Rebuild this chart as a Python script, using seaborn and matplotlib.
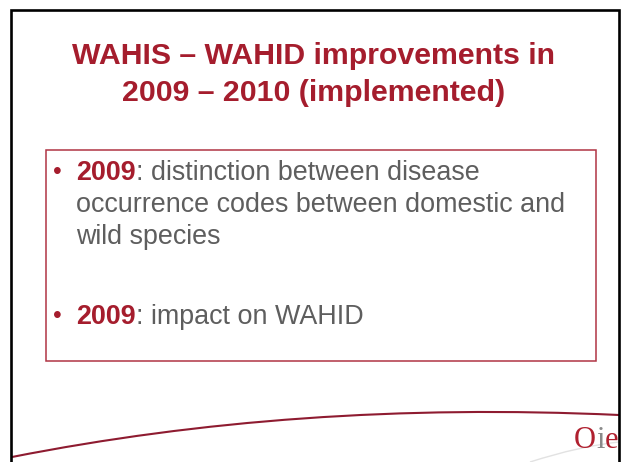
import matplotlib
matplotlib.use("Agg")
import matplotlib.pyplot as plt
from matplotlib.patches import Rectangle, PathPatch
from matplotlib.path import Path
import seaborn as sns

# slide content
title_lines = ["WAHIS \u2013 WAHID improvements in", "2009 \u2013 2010 (implemented)"]
bullet_years = ["2009", "2009"]
bullet_texts = [
    [": distinction between disease", "occurrence codes between domestic and", "wild species"],
    [": impact on WAHID"],
]
logo_letters = ["O", "i", "e"]

RED = "#A51D2D"
GRAY = "#5E5E5E"

sns.set_theme(style="white")
plt.rcParams["font.family"] = ["Liberation Sans", "DejaVu Sans"]

fig = plt.figure(figsize=(6.21, 4.62), dpi=100)
ax = fig.add_axes([0, 0, 1, 1])
ax.set_xlim(0, 621)
ax.set_ylim(462, 0)
ax.axis("off")

# slide frame
ax.plot([11, 11, 619, 619], [462, 9.5, 9.5, 462], color="black", lw=1.9,
        solid_joinstyle="miter")

# title
for i, line in enumerate(title_lines):
    ax.text(314, 64 + i * 37, line, ha="center", va="baseline",
            fontsize=21.8, fontweight="bold", color=RED)

# content box
ax.add_patch(Rectangle((46, 150), 550, 211, fill=False, ec="#B03444", lw=1.1))

# bullets
fs = 19.4
baselines = [[180, 212, 244], [324]]
for year, lines, ys in zip(bullet_years, bullet_texts, baselines):
    ax.text(53, ys[0] - 1, "\u2022", color=RED, fontsize=18, va="baseline")
    t = ax.text(76, ys[0], year, color=RED, fontsize=fs, fontweight="bold", va="baseline")
    ax.annotate(lines[0], xy=(1, ys[0]), xycoords=(t, "data"), color=GRAY,
                fontsize=fs, va="baseline")
    for line, y in zip(lines[1:], ys[1:]):
        ax.text(76, y, line, color=GRAY, fontsize=fs, va="baseline")

# bottom swoosh
curve = Path([(12, 457), (200, 420), (400, 405), (619, 415)],
             [Path.MOVETO, Path.CURVE4, Path.CURVE4, Path.CURVE4])
ax.add_patch(PathPatch(curve, fill=False, ec="#8E1B30", lw=1.5))
light = Path([(530, 462), (580, 446), (619, 442)],
             [Path.MOVETO, Path.CURVE3, Path.CURVE3])
ax.add_patch(PathPatch(light, fill=False, ec="#E2E2E2", lw=1))

# logo
logo_colors = ["#B0202F", "#8A8A8A", "#B0202F"]
prev = None
for letter, col in zip(logo_letters, logo_colors):
    kw = dict(fontsize=22, family="Liberation Serif", va="baseline", color=col)
    if prev is None:
        prev = ax.text(574, 448, letter, **kw)
    else:
        prev = ax.annotate(letter, xy=(1, 448), xycoords=(prev, "data"), **kw)

fig.savefig("out.png", dpi=100, facecolor="white")
